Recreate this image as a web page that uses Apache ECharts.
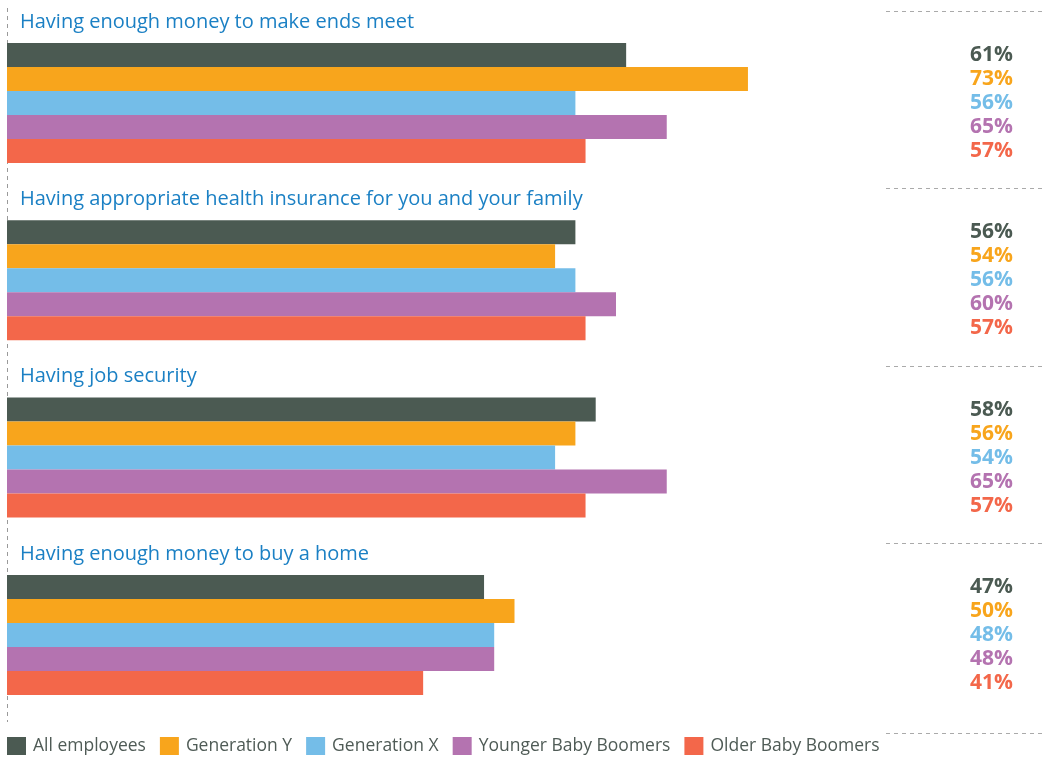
<!DOCTYPE html>
<html>
<head>
<meta charset="utf-8">
<script src="https://cdn.jsdelivr.net/npm/echarts@6/dist/echarts.min.js"></script>
<style>
  html, body { margin: 0; padding: 0; background: #fff; }
  #chart { width: 1044px; height: 757px; }
</style>
</head>
<body>
<div id="chart"></div>
<script>
// Worry topics, one block each
const topics = [
  'Having enough money to make ends meet',
  'Having appropriate health insurance for you and your family',
  'Having job security',
  'Having enough money to buy a home'
];
// Respondent groups (legend order)
const groups = ['All employees', 'Generation Y', 'Generation X', 'Younger Baby Boomers', 'Older Baby Boomers'];
const groupColors = ['#4b5a52', '#f8a51c', '#74bde8', '#b473b0', '#f3674a'];
// Share of respondents per topic, in group order (%)
const makeEndsMeet    = [61, 73, 56, 65, 57];
const healthInsurance = [56, 54, 56, 60, 57];
const jobSecurity     = [58, 56, 54, 65, 57];
const buyHome         = [47, 50, 48, 48, 41];
const topicValues = [makeEndsMeet, healthInsurance, jobSecurity, buyHome];

const FONT = '"Open Sans", sans-serif';
const blockTop = 43, blockStep = 177.3, blockHeight = 120;

const grid = [], xAxis = [], yAxis = [], series = [], title = [];
topicValues.forEach(function (vals, t) {
  const top = blockTop + t * blockStep;
  grid.push({ left: 7, width: 1015, top: top, height: blockHeight, containLabel: false });
  xAxis.push({ type: 'value', gridIndex: t, min: 0, max: 100, show: false });
  yAxis.push({
    type: 'category', gridIndex: t, data: groups, inverse: true,
    axisLine: { show: false }, axisTick: { show: false }, axisLabel: { show: false }
  });
  // right-hand value column
  yAxis.push({
    type: 'category', gridIndex: t, data: groups, inverse: true, position: 'right',
    axisLine: { show: false }, axisTick: { show: false },
    axisLabel: {
      inside: true, margin: 9, interval: 0, hideOverlap: false,
      verticalAlign: 'middle', padding: [5, 0, 0, 0],
      fontFamily: FONT, fontSize: 21, fontWeight: 'bold',
      formatter: function (v, i) { return vals[i] + '%'; },
      color: function (v, i) { return groupColors[groups.indexOf(v)]; }
    }
  });
  groups.forEach(function (name, g) {
    series.push({
      type: 'bar', name: name, xAxisIndex: t, yAxisIndex: 2 * t,
      stack: 'topic' + t, barWidth: '100%',
      itemStyle: { color: groupColors[g] },
      emphasis: { disabled: true },
      data: groups.map(function (_, i) { return i === g ? vals[g] : '-'; })
    });
  });
  title.push({
    text: topics[t], left: 15, top: top - 36,
    textStyle: { fontFamily: FONT, fontSize: 20, fontWeight: 'normal', color: '#1b80c4' }
  });
});

const chart = echarts.init(document.getElementById('chart'));
chart.setOption({
  animation: false,
  color: groupColors,
  title: title,
  grid: grid, xAxis: xAxis, yAxis: yAxis, series: series,
  legend: {
    data: groups, left: 2, top: 732, itemWidth: 19, itemHeight: 18, itemGap: 14,
    icon: 'rect', selectedMode: false,
    textStyle: { fontFamily: FONT, fontSize: 17.5, color: '#4f5b56', padding: [0, 0, 0, 2] }
  },
  graphic: [
    { type: 'line', shape: { x1: 7.5, y1: 8, x2: 7.5, y2: 722 }, style: { stroke: '#9a9a9a', lineWidth: 1, lineDash: [4, 4] } },
    { type: 'line', shape: { x1: 886, y1: 11.5, x2: 1044, y2: 11.5 }, style: { stroke: '#aaaaaa', lineWidth: 1, lineDash: [4, 4] } },
    { type: 'line', shape: { x1: 886, y1: 188.5, x2: 1044, y2: 188.5 }, style: { stroke: '#aaaaaa', lineWidth: 1, lineDash: [4, 4] } },
    { type: 'line', shape: { x1: 886, y1: 366.5, x2: 1044, y2: 366.5 }, style: { stroke: '#aaaaaa', lineWidth: 1, lineDash: [4, 4] } },
    { type: 'line', shape: { x1: 886, y1: 543.5, x2: 1044, y2: 543.5 }, style: { stroke: '#aaaaaa', lineWidth: 1, lineDash: [4, 4] } },
    { type: 'line', shape: { x1: 886, y1: 733.5, x2: 1044, y2: 733.5 }, style: { stroke: '#aaaaaa', lineWidth: 1, lineDash: [4, 4] } }
  ]
});
</script>
</body>
</html>
